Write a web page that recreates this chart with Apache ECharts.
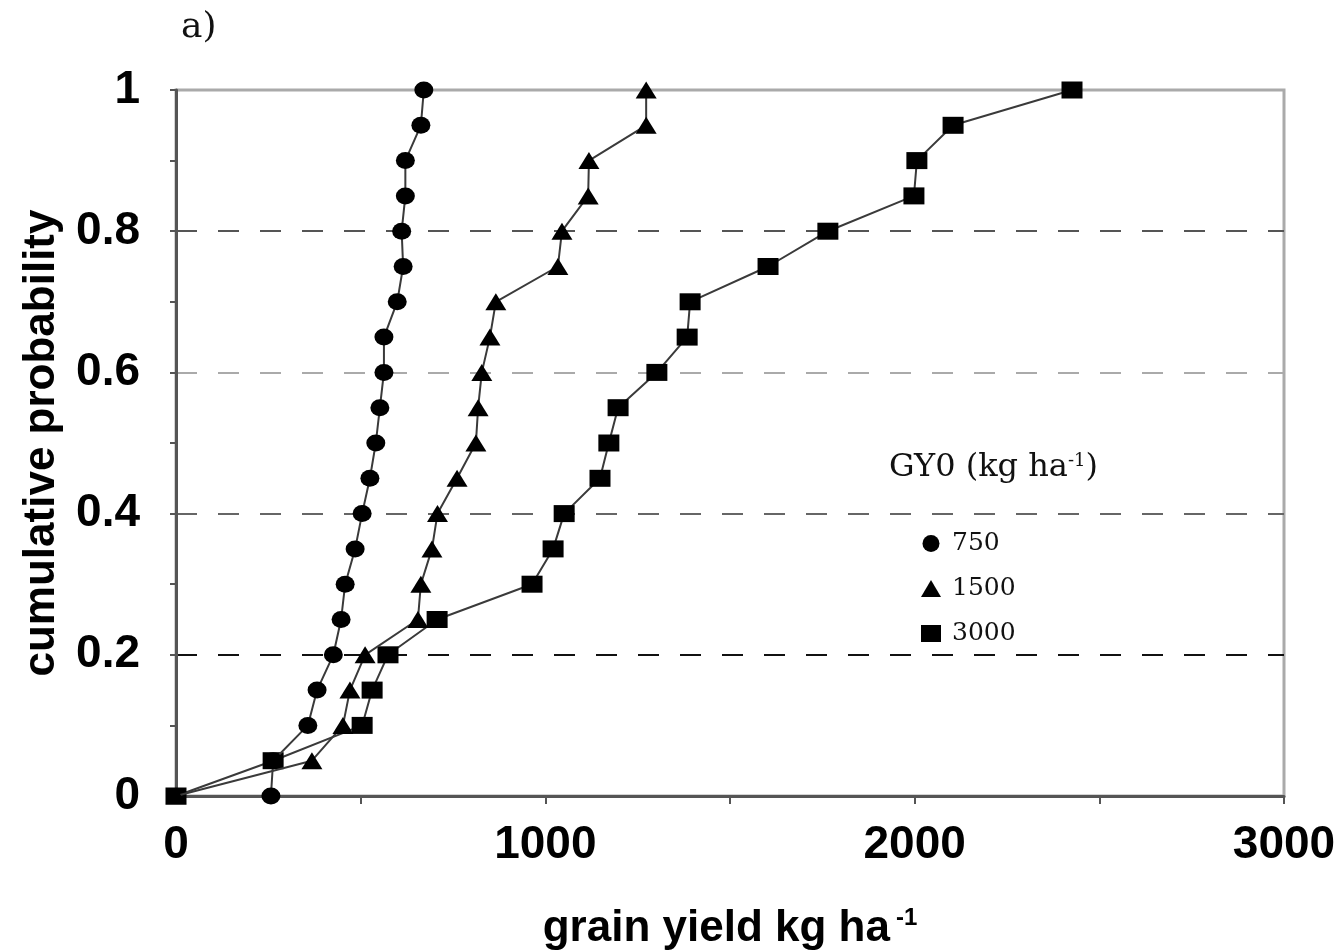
<!DOCTYPE html>
<html>
<head>
<meta charset="utf-8">
<script src="https://cdn.jsdelivr.net/npm/echarts@6/dist/echarts.min.js"></script>
<style>
html,body{margin:0;padding:0;background:#fff;}
#chart{width:1339px;height:952px;}
</style>
</head>
<body>
<div id="chart"></div>
<script>
// cumulative probability levels
const prob = [0, 0.05, 0.1, 0.15, 0.2, 0.25, 0.3, 0.35, 0.4, 0.45, 0.5, 0.55, 0.6, 0.65, 0.7, 0.75, 0.8, 0.85, 0.9, 0.95, 1];
// grain yield (kg/ha) for each probability level, per GY0 scenario
const yield750  = [257, 263, 357, 382, 426, 447, 458, 485, 504, 525, 541, 552, 563, 563, 599, 615, 611, 621, 621, 663, 671];
const yield1500 = [0, 368, 452, 471, 512, 655, 663, 693, 708, 761, 812, 818, 828, 850, 866, 1034, 1045, 1116, 1118, 1273, 1273];
const yield3000 = [0, 263, 504, 531, 574, 707, 964, 1021, 1051, 1148, 1172, 1197, 1302, 1384, 1392, 1603, 1765, 1998, 2006, 2104, 2426];
const seriesNames = ['750', '1500', '3000'];
const seriesSymbols = ['circle', 'triangle', 'rect'];
const xTicks = [0, 1000, 2000, 3000];
const yTicks = ['0', '0.2', '0.4', '0.6', '0.8', '1'];

function pairs(xs) { return xs.map((x, i) => [x, prob[i]]); }

const chart = echarts.init(document.getElementById('chart'), null, {renderer: 'canvas'});
const labelFont = '"Liberation Sans", Arial, sans-serif';
const serifFont = '"DejaVu Serif", "Liberation Serif", serif';

const lineStyle = {color: '#3a3a3a', width: 2};
const markStyle = {color: '#000'};

chart.setOption({
  animation: false,
  backgroundColor: '#fff',
  grid: {left: 176, right: 55, top: 90, bottom: 156, containLabel: false, outerBoundsMode: 'none',
    show: true, borderColor: '#aaa', borderWidth: 3, backgroundColor: 'transparent'},
  xAxis: {
    type: 'value', min: 0, max: 3000, interval: 500,
    name: 'grain yield kg ha{s|-1}', nameLocation: 'middle', nameGap: 110,
    nameTextStyle: {fontFamily: labelFont, fontWeight: 'bold', fontSize: 44, color: '#000',
      rich: {s: {fontFamily: labelFont, fontWeight: 'bold', fontSize: 24, color: '#000', verticalAlign: 'top', padding: [0,0,22,6]}}},
    axisLine: {lineStyle: {color: '#555', width: 3}},
    axisTick: {length: 8, lineStyle: {color: '#555', width: 2}},
    axisLabel: {margin: 26, fontFamily: labelFont, fontWeight: 'bold', fontSize: 46, color: '#000',
      formatter: v => xTicks.includes(v) ? String(v) : ''},
    splitLine: {show: false}
  },
  yAxis: {
    type: 'value', min: 0, max: 1, interval: 0.2,
    name: 'cumulative probability', nameLocation: 'middle', nameGap: 112,
    nameTextStyle: {fontFamily: labelFont, fontWeight: 'bold', fontSize: 44, color: '#000'},
    axisLine: {show: true, lineStyle: {color: '#555', width: 3}},
    axisTick: {length: 6, lineStyle: {color: '#555', width: 2}},
    minorTick: {show: true, splitNumber: 2, length: 6, lineStyle: {color: '#555', width: 2}},
    axisLabel: {margin: 36, fontFamily: labelFont, fontWeight: 'bold', fontSize: 46, color: '#000',
      formatter: v => yTicks[Math.round(v / 0.2)]},
    splitLine: {show: true, lineStyle: {type: [21, 21], width: 2, color: ['#555', '#111', '#666', '#aaa', '#555', '#aaa']}}
  },
  legend: {
    orient: 'vertical', left: 916, top: 526, itemGap: 20, itemWidth: 20, itemHeight: 17,
    data: seriesNames.map((n, i) => ({name: n, icon: seriesSymbols[i]})),
    textStyle: {fontFamily: serifFont, fontSize: 25, color: '#111', padding: [0,0,0,6]}
  },
  graphic: [
    {type: 'text', left: 181, top: 10, style: {text: 'a)', font: '36px "DejaVu Serif", serif', fill: '#111'}},
    {type: 'text', left: 889, top: 452, style: {text: 'GY0 (kg ha{s|-1})', font: '32px "DejaVu Serif", serif', fill: '#111',
      rich: {s: {font: '18px "DejaVu Serif", serif', fill: '#111', verticalAlign: 'top'}}}}
  ],
  series: [
    {name: seriesNames[0], type: 'line', data: pairs(yield750), symbol: seriesSymbols[0], symbolSize: [19, 17],
      lineStyle: lineStyle, itemStyle: markStyle, z: 5},
    {name: seriesNames[1], type: 'line', data: pairs(yield1500), symbol: seriesSymbols[1], symbolSize: [21, 17],
      lineStyle: lineStyle, itemStyle: markStyle, z: 4},
    {name: seriesNames[2], type: 'line', data: pairs(yield3000), symbol: seriesSymbols[2], symbolSize: [21, 17],
      lineStyle: lineStyle, itemStyle: markStyle, z: 3}
  ]
});
</script>
</body>
</html>
